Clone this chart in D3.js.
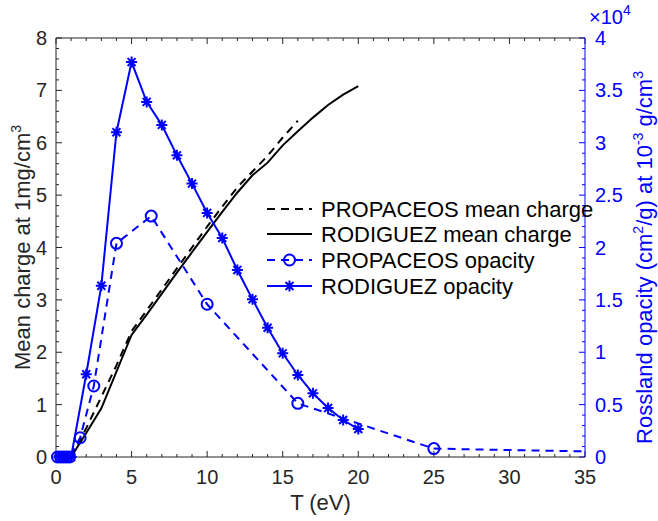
<!DOCTYPE html>
<html><head><meta charset="utf-8">
<script src="https://cdn.jsdelivr.net/npm/d3@7"></script>
<style>body{margin:0;background:#fff}svg{display:block}text{font-family:"Liberation Sans",Arial,sans-serif}</style>
</head><body><svg id="c" width="658" height="521"></svg>
<script>
// ---- data ----
const propChargeT = [1,2,3,4,5,6,7,8,9,10,11,12,13,14,15,16];
const propCharge  = [0,0.55,1.15,1.75,2.4,2.8,3.2,3.6,4.0,4.4,4.78,5.15,5.45,5.75,6.1,6.42];
const rodChargeT  = [1,2,3,5,6,7,8,9,10,11,12,13,14,15,16,17,18,19,20];
const rodCharge   = [0,0.46,0.93,2.33,2.72,3.12,3.52,3.91,4.30,4.68,5.05,5.38,5.62,5.95,6.22,6.48,6.72,6.92,7.08];
const propOpT = [0.1,0.3,0.5,0.7,0.9,1.6,2.5,4,6.3,10,16,25,40];
const propOp  = [0,0,0,0,0,0.184,0.678,2.04,2.30,1.458,0.512,0.08,0.04]; // x1e4
const rodOpT  = [0.2,0.4,0.6,0.8,1,2,3,4,5,6,7,8,9,10,11,12,13,14,15,16,17,18,19,20];
const rodOp   = [0,0,0,0,0,0.79,1.635,3.10,3.77,3.39,3.17,2.88,2.61,2.33,2.09,1.785,1.505,1.234,0.99,0.783,0.608,0.468,0.353,0.267]; // x1e4
const xTicks = [0,5,10,15,20,25,30,35];
const yLeftTicks = [0,1,2,3,4,5,6,7,8];
const yRightTicks = [0,0.5,1,1.5,2,2.5,3,3.5,4];
const legendLabels = ["PROPACEOS mean charge","RODIGUEZ mean charge","PROPACEOS opacity","RODIGUEZ opacity"];

// ---- layout ----
const L=56,R=585,T=38,B=457;
const BLUE="#0000ff", AX="#262626";
const svg=d3.select("#c");
const x=d3.scaleLinear().domain([0,35]).range([L,R]);
const yl=d3.scaleLinear().domain([0,8]).range([B,T]);
const yr=d3.scaleLinear().domain([0,4]).range([B,T]);

svg.append("defs").append("clipPath").attr("id","clip")
  .append("rect").attr("x",L-8).attr("y",T-8).attr("width",R-L+8).attr("height",B-T+16);

const fs=20, lfs=22, sfs=14;
const g=svg.append("g");
// bottom & top
d3.range(0,36,1).forEach(v=>{
  const len = v%5===0?6:3;
  g.append("line").attr("x1",x(v)).attr("x2",x(v)).attr("y1",B).attr("y2",B-len).attr("stroke",AX);
  g.append("line").attr("x1",x(v)).attr("x2",x(v)).attr("y1",T).attr("y2",T+len).attr("stroke",AX);
});
xTicks.forEach(v=>{
  g.append("text").attr("x",x(v)).attr("y",B+27).attr("text-anchor","middle").attr("font-size",fs).attr("fill",AX).text(v);
});
// left
d3.range(0,41,1).forEach(i=>{
  const v=i*0.2; const len = i%5===0?6:3;
  g.append("line").attr("x1",L).attr("x2",L+len).attr("y1",yl(v)).attr("y2",yl(v)).attr("stroke",AX);
});
yLeftTicks.forEach(v=>{
  g.append("text").attr("x",L-9).attr("y",yl(v)).attr("dy","0.35em").attr("text-anchor","end").attr("font-size",fs).attr("fill",AX).text(v);
});
// right
d3.range(0,41,1).forEach(i=>{
  const v=i*0.1; const len = i%5===0?6:3;
  g.append("line").attr("x1",R).attr("x2",R-len).attr("y1",yr(v)).attr("y2",yr(v)).attr("stroke",BLUE);
});
yRightTicks.forEach(v=>{
  g.append("text").attr("x",R+10).attr("y",yr(v)).attr("dy","0.35em").attr("text-anchor","start").attr("font-size",fs).attr("fill",BLUE).text(v);
});
// frame
g.append("line").attr("x1",L).attr("x2",R).attr("y1",B).attr("y2",B).attr("stroke",AX);
g.append("line").attr("x1",L).attr("x2",R).attr("y1",T).attr("y2",T).attr("stroke",AX);
g.append("line").attr("x1",L).attr("x2",L).attr("y1",T).attr("y2",B).attr("stroke",AX);
g.append("line").attr("x1",R).attr("x2",R).attr("y1",T).attr("y2",B).attr("stroke",BLUE);

// exponent label
const ex=svg.append("text").attr("x",R+4).attr("y",24).attr("font-size",20).attr("fill",BLUE);
ex.append("tspan").text("\u00d710");
ex.append("tspan").attr("dy",-9).attr("font-size",sfs).text("4");

// axis labels
svg.append("text").attr("x",(L+R)/2).attr("y",B+53).attr("text-anchor","middle").attr("font-size",lfs).attr("fill",AX).text("T (eV)");
const ll=svg.append("text").attr("transform",`translate(30,${(T+B)/2}) rotate(-90)`).attr("text-anchor","middle").attr("font-size",lfs).attr("fill",AX);
ll.append("tspan").text("Mean charge at 1mg/cm");
ll.append("tspan").attr("dy",-9).attr("font-size",sfs).text("3");
const rl=svg.append("text").attr("transform",`translate(652,${(T+B)/2+10}) rotate(-90)`).attr("text-anchor","middle").attr("font-size",lfs).attr("fill",BLUE);
rl.append("tspan").text("Rossland opacity (cm");
rl.append("tspan").attr("dy",-9).attr("font-size",sfs).text("2");
rl.append("tspan").attr("dy",9).text("/g) at 10");
rl.append("tspan").attr("dy",-9).attr("font-size",sfs).text("-3");
rl.append("tspan").attr("dy",9).text(" g/cm");
rl.append("tspan").attr("dy",-9).attr("font-size",sfs).text("3");

// ---- data lines ----
const plot=svg.append("g").attr("clip-path","url(#clip)");
function line(ts,vs,ys){return d3.line().x((d,i)=>x(ts[i])).y((d,i)=>ys(vs[i]))(vs);}
plot.append("path").attr("d",line(propChargeT,propCharge,yl)).attr("fill","none").attr("stroke","#000").attr("stroke-width",2).attr("stroke-dasharray","8,6");
plot.append("path").attr("d",line(rodChargeT,rodCharge,yl)).attr("fill","none").attr("stroke","#000").attr("stroke-width",2);
plot.append("path").attr("d",line(propOpT,propOp,yr)).attr("fill","none").attr("stroke",BLUE).attr("stroke-width",2).attr("stroke-dasharray","8,6");
plot.append("path").attr("d",line(rodOpT,rodOp,yr)).attr("fill","none").attr("stroke",BLUE).attr("stroke-width",2);

function circle(sel,cx,cy){sel.append("circle").attr("cx",cx).attr("cy",cy).attr("r",5.5).attr("fill","none").attr("stroke",BLUE).attr("stroke-width",2);}
function star(sel,cx,cy){
  const s=5.5, d=s*0.72;
  const p=`M${cx-s},${cy}L${cx+s},${cy}M${cx},${cy-s}L${cx},${cy+s}M${cx-d},${cy-d}L${cx+d},${cy+d}M${cx-d},${cy+d}L${cx+d},${cy-d}`;
  sel.append("path").attr("d",p).attr("stroke",BLUE).attr("stroke-width",2).attr("fill","none");
}
propOpT.forEach((t,i)=>circle(plot,x(t),yr(propOp[i])));
rodOpT.forEach((t,i)=>star(plot,x(t),yr(rodOp[i])));

// ---- legend ----
const lg=svg.append("g");
const ly=[209,234,260,286];
const lx1=267,lx2=312;
const styles=[{c:"#000",dash:"8,6"},{c:"#000",dash:null},{c:BLUE,dash:"8,6",m:"o"},{c:BLUE,dash:null,m:"*"}];
legendLabels.forEach((lab,i)=>{
  const st=styles[i];
  const ln=lg.append("line").attr("x1",lx1).attr("x2",lx2).attr("y1",ly[i]).attr("y2",ly[i]).attr("stroke",st.c).attr("stroke-width",2);
  if(st.dash) ln.attr("stroke-dasharray",st.dash);
  if(st.m==="o") circle(lg,(lx1+lx2)/2,ly[i]);
  if(st.m==="*") star(lg,(lx1+lx2)/2,ly[i]);
  lg.append("text").attr("x",321).attr("y",ly[i]).attr("dy","0.35em").attr("font-size",lfs).attr("fill","#000").text(lab);
});
</script></body></html>
